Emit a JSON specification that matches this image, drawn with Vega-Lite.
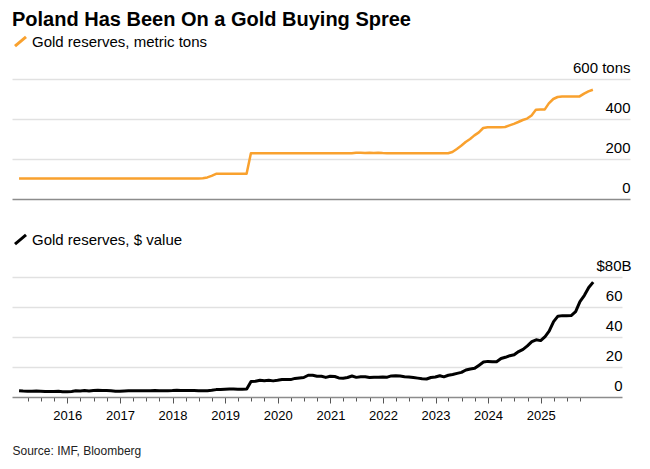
{
  "$schema": "https://vega.github.io/schema/vega-lite/v6.json",
  "background": "white",
  "padding": {"left": 12, "top": 10, "right": 14, "bottom": 8},
  "title": {"text": "Poland Has Been On a Gold Buying Spree", "anchor": "start", "fontSize": 20, "fontWeight": "bold", "color": "#000", "offset": 4},
  "config": {"view": {"stroke": null}, "font": "Liberation Sans"},
  "spacing": 33,
  "resolve": {"scale": {"x": "independent", "y": "independent", "color": "independent"}, "legend": {"color": "independent"}},
  "datasets": {
    "gold": [
      {"date": "2015-01-31", "tons": 102.9, "usd": 4.17},
      {"date": "2015-02-28", "tons": 102.9, "usd": 4.01},
      {"date": "2015-03-31", "tons": 102.9, "usd": 3.91},
      {"date": "2015-04-30", "tons": 102.9, "usd": 3.90},
      {"date": "2015-05-31", "tons": 102.9, "usd": 3.94},
      {"date": "2015-06-30", "tons": 102.9, "usd": 3.88},
      {"date": "2015-07-31", "tons": 102.9, "usd": 3.63},
      {"date": "2015-08-31", "tons": 102.9, "usd": 3.75},
      {"date": "2015-09-30", "tons": 102.9, "usd": 3.69},
      {"date": "2015-10-31", "tons": 102.9, "usd": 3.78},
      {"date": "2015-11-30", "tons": 102.9, "usd": 3.52},
      {"date": "2015-12-31", "tons": 102.9, "usd": 3.51},
      {"date": "2016-01-31", "tons": 102.9, "usd": 3.70},
      {"date": "2016-02-29", "tons": 102.9, "usd": 4.10},
      {"date": "2016-03-31", "tons": 102.9, "usd": 4.08},
      {"date": "2016-04-30", "tons": 102.9, "usd": 4.27},
      {"date": "2016-05-31", "tons": 102.9, "usd": 4.02},
      {"date": "2016-06-30", "tons": 102.9, "usd": 4.37},
      {"date": "2016-07-31", "tons": 102.9, "usd": 4.47},
      {"date": "2016-08-31", "tons": 102.9, "usd": 4.33},
      {"date": "2016-09-30", "tons": 102.9, "usd": 4.37},
      {"date": "2016-10-31", "tons": 102.9, "usd": 4.21},
      {"date": "2016-11-30", "tons": 102.9, "usd": 3.90},
      {"date": "2016-12-31", "tons": 102.9, "usd": 3.79},
      {"date": "2017-01-31", "tons": 102.9, "usd": 4.01},
      {"date": "2017-02-28", "tons": 102.9, "usd": 4.15},
      {"date": "2017-03-31", "tons": 102.9, "usd": 4.12},
      {"date": "2017-04-30", "tons": 102.9, "usd": 4.19},
      {"date": "2017-05-31", "tons": 102.9, "usd": 4.19},
      {"date": "2017-06-30", "tons": 102.9, "usd": 4.11},
      {"date": "2017-07-31", "tons": 102.9, "usd": 4.20},
      {"date": "2017-08-31", "tons": 102.9, "usd": 4.37},
      {"date": "2017-09-30", "tons": 102.9, "usd": 4.24},
      {"date": "2017-10-31", "tons": 102.9, "usd": 4.20},
      {"date": "2017-11-30", "tons": 102.9, "usd": 4.22},
      {"date": "2017-12-31", "tons": 102.9, "usd": 4.29},
      {"date": "2018-01-31", "tons": 102.9, "usd": 4.45},
      {"date": "2018-02-28", "tons": 102.9, "usd": 4.36},
      {"date": "2018-03-31", "tons": 102.9, "usd": 4.38},
      {"date": "2018-04-30", "tons": 102.9, "usd": 4.35},
      {"date": "2018-05-31", "tons": 102.9, "usd": 4.29},
      {"date": "2018-06-30", "tons": 102.9, "usd": 4.14},
      {"date": "2018-07-31", "tons": 104, "usd": 4.09},
      {"date": "2018-08-31", "tons": 108, "usd": 4.17},
      {"date": "2018-09-30", "tons": 116, "usd": 4.43},
      {"date": "2018-10-31", "tons": 126, "usd": 4.92},
      {"date": "2018-11-30", "tons": 126, "usd": 4.95},
      {"date": "2018-12-31", "tons": 126, "usd": 5.18},
      {"date": "2019-01-31", "tons": 126, "usd": 5.35},
      {"date": "2019-02-28", "tons": 126, "usd": 5.33},
      {"date": "2019-03-31", "tons": 126, "usd": 5.23},
      {"date": "2019-04-30", "tons": 126, "usd": 5.20},
      {"date": "2019-05-31", "tons": 126, "usd": 5.29},
      {"date": "2019-06-30", "tons": 228.6, "usd": 10.36},
      {"date": "2019-07-31", "tons": 228.6, "usd": 10.49},
      {"date": "2019-08-31", "tons": 228.6, "usd": 11.17},
      {"date": "2019-09-30", "tons": 228.6, "usd": 10.91},
      {"date": "2019-10-31", "tons": 228.6, "usd": 11.12},
      {"date": "2019-11-30", "tons": 228.6, "usd": 10.75},
      {"date": "2019-12-31", "tons": 228.6, "usd": 11.15},
      {"date": "2020-01-31", "tons": 228.6, "usd": 11.63},
      {"date": "2020-02-29", "tons": 228.6, "usd": 11.65},
      {"date": "2020-03-31", "tons": 228.6, "usd": 11.59},
      {"date": "2020-04-30", "tons": 228.6, "usd": 12.39},
      {"date": "2020-05-31", "tons": 228.6, "usd": 12.71},
      {"date": "2020-06-30", "tons": 228.6, "usd": 12.99},
      {"date": "2020-07-31", "tons": 228.6, "usd": 14.52},
      {"date": "2020-08-31", "tons": 228.6, "usd": 14.46},
      {"date": "2020-09-30", "tons": 228.6, "usd": 13.86},
      {"date": "2020-10-31", "tons": 228.6, "usd": 13.81},
      {"date": "2020-11-30", "tons": 228.6, "usd": 13.06},
      {"date": "2020-12-31", "tons": 228.6, "usd": 13.87},
      {"date": "2021-01-31", "tons": 228.6, "usd": 13.69},
      {"date": "2021-02-28", "tons": 228.6, "usd": 12.74},
      {"date": "2021-03-31", "tons": 228.6, "usd": 12.55},
      {"date": "2021-04-30", "tons": 228.6, "usd": 12.99},
      {"date": "2021-05-31", "tons": 228.6, "usd": 13.99},
      {"date": "2021-06-30", "tons": 231.0, "usd": 13.09},
      {"date": "2021-07-31", "tons": 231.5, "usd": 13.47},
      {"date": "2021-08-31", "tons": 230.6, "usd": 13.47},
      {"date": "2021-09-30", "tons": 231.3, "usd": 12.94},
      {"date": "2021-10-31", "tons": 230.2, "usd": 13.24},
      {"date": "2021-11-30", "tons": 231.0, "usd": 13.18},
      {"date": "2021-12-31", "tons": 229.5, "usd": 13.41},
      {"date": "2022-01-31", "tons": 228.7, "usd": 13.21},
      {"date": "2022-02-28", "tons": 228.7, "usd": 14.04},
      {"date": "2022-03-31", "tons": 228.7, "usd": 14.24},
      {"date": "2022-04-30", "tons": 228.7, "usd": 13.95},
      {"date": "2022-05-31", "tons": 228.7, "usd": 13.51},
      {"date": "2022-06-30", "tons": 228.7, "usd": 13.29},
      {"date": "2022-07-31", "tons": 228.7, "usd": 12.98},
      {"date": "2022-08-31", "tons": 228.7, "usd": 12.58},
      {"date": "2022-09-30", "tons": 228.7, "usd": 12.21},
      {"date": "2022-10-31", "tons": 228.7, "usd": 12.01},
      {"date": "2022-11-30", "tons": 228.7, "usd": 13.00},
      {"date": "2022-12-31", "tons": 228.7, "usd": 13.32},
      {"date": "2023-01-31", "tons": 228.7, "usd": 14.18},
      {"date": "2023-02-28", "tons": 228.7, "usd": 13.43},
      {"date": "2023-03-31", "tons": 228.7, "usd": 14.48},
      {"date": "2023-04-30", "tons": 235, "usd": 15.04},
      {"date": "2023-05-31", "tons": 250, "usd": 15.77},
      {"date": "2023-06-30", "tons": 266, "usd": 16.41},
      {"date": "2023-07-31", "tons": 285, "usd": 18.0},
      {"date": "2023-08-31", "tons": 300, "usd": 18.71},
      {"date": "2023-09-30", "tons": 318, "usd": 19.13},
      {"date": "2023-10-31", "tons": 333, "usd": 21.23},
      {"date": "2023-11-30", "tons": 355, "usd": 23.3},
      {"date": "2023-12-31", "tons": 358.7, "usd": 23.74},
      {"date": "2024-01-31", "tons": 358.7, "usd": 23.48},
      {"date": "2024-02-29", "tons": 358.7, "usd": 23.53},
      {"date": "2024-03-31", "tons": 358.7, "usd": 25.67},
      {"date": "2024-04-30", "tons": 360, "usd": 26.46},
      {"date": "2024-05-31", "tons": 368, "usd": 27.53},
      {"date": "2024-06-30", "tons": 376, "usd": 28.12},
      {"date": "2024-07-31", "tons": 385, "usd": 30.29},
      {"date": "2024-08-31", "tons": 395, "usd": 31.79},
      {"date": "2024-09-30", "tons": 402, "usd": 34.06},
      {"date": "2024-10-31", "tons": 418, "usd": 36.88},
      {"date": "2024-11-30", "tons": 446, "usd": 38.10},
      {"date": "2024-12-31", "tons": 448, "usd": 37.59},
      {"date": "2025-01-31", "tons": 448, "usd": 40.30},
      {"date": "2025-02-28", "tons": 478, "usd": 43.9},
      {"date": "2025-03-31", "tons": 500, "usd": 50.2},
      {"date": "2025-04-30", "tons": 510, "usd": 53.9},
      {"date": "2025-05-31", "tons": 513, "usd": 54.25},
      {"date": "2025-06-30", "tons": 513, "usd": 54.21},
      {"date": "2025-07-31", "tons": 513, "usd": 54.26},
      {"date": "2025-08-31", "tons": 513, "usd": 56.87},
      {"date": "2025-09-30", "tons": 513, "usd": 63.63},
      {"date": "2025-10-31", "tons": 527, "usd": 67.77},
      {"date": "2025-11-30", "tons": 538, "usd": 73.0},
      {"date": "2025-12-31", "tons": 546, "usd": 76.6}
    ]
  },
  "vconcat": [
    {
      "width": 618,
      "height": 120,
      "data": {"name": "gold"},
      "mark": {"type": "line", "strokeWidth": 2.5, "strokeJoin": "round"},
      "encoding": {
        "x": {
          "field": "date", "type": "temporal",
          "scale": {"type": "utc", "domain": [{"year": 2014, "month": 12, "date": 13, "utc": true}, {"year": 2026, "month": 9, "date": 15, "utc": true}]},
          "axis": {"domain": true, "domainColor": "#8c8c8c", "domainWidth": 1.5, "ticks": false, "labels": false, "grid": false, "title": null}
        },
        "y": {
          "field": "tons", "type": "quantitative",
          "scale": {"domain": [0, 600]},
          "axis": {
            "orient": "right", "values": [0, 200, 400, 600], "title": null,
            "grid": true, "gridColor": "#e1e1e1", "gridWidth": 1.5,
            "gridOpacity": {"condition": {"test": "datum.value == 0", "value": 0}, "value": 1},
            "domain": false, "ticks": false, "tickSize": 0,
            "labelPadding": 0, "labelAlign": "right", "labelBaseline": "alphabetic", "labelOffset": -7,
            "labelFontSize": 15, "labelColor": "#000",
            "labelExpr": "datum.value == 600 ? '600 tons' : datum.label"
          }
        },
        "color": {
          "datum": "Gold reserves, metric tons", "type": "nominal",
          "scale": {"range": ["#f9a12e"]},
          "legend": {
            "orient": "none", "legendX": 1, "legendY": -45, "title": null, "padding": 0,
            "symbolType": "M-1,0.85L1,-0.85", "symbolSize": 121, "symbolStrokeWidth": 3,
            "labelFontSize": 15, "labelOffset": 4, "labelColor": "#000", "labelLimit": 400
          }
        }
      }
    },
    {
      "width": 610,
      "height": 120,
      "data": {"name": "gold"},
      "mark": {"type": "line", "strokeWidth": 3, "strokeJoin": "round"},
      "encoding": {
        "x": {
          "field": "date", "type": "temporal",
          "scale": {"type": "utc", "domain": [{"year": 2014, "month": 12, "date": 13, "utc": true}, {"year": 2026, "month": 7, "date": 19, "utc": true}]},
          "axis": {
            "values": [
              {"year": 2015, "month": 4, "utc": true}, {"year": 2015, "month": 7, "utc": true}, {"year": 2015, "month": 10, "utc": true},
              {"year": 2016, "month": 1, "utc": true}, {"year": 2016, "month": 4, "utc": true}, {"year": 2016, "month": 7, "utc": true}, {"year": 2016, "month": 10, "utc": true},
              {"year": 2017, "month": 1, "utc": true}, {"year": 2017, "month": 4, "utc": true}, {"year": 2017, "month": 7, "utc": true}, {"year": 2017, "month": 10, "utc": true},
              {"year": 2018, "month": 1, "utc": true}, {"year": 2018, "month": 4, "utc": true}, {"year": 2018, "month": 7, "utc": true}, {"year": 2018, "month": 10, "utc": true},
              {"year": 2019, "month": 1, "utc": true}, {"year": 2019, "month": 4, "utc": true}, {"year": 2019, "month": 7, "utc": true}, {"year": 2019, "month": 10, "utc": true},
              {"year": 2020, "month": 1, "utc": true}, {"year": 2020, "month": 4, "utc": true}, {"year": 2020, "month": 7, "utc": true}, {"year": 2020, "month": 10, "utc": true},
              {"year": 2021, "month": 1, "utc": true}, {"year": 2021, "month": 4, "utc": true}, {"year": 2021, "month": 7, "utc": true}, {"year": 2021, "month": 10, "utc": true},
              {"year": 2022, "month": 1, "utc": true}, {"year": 2022, "month": 4, "utc": true}, {"year": 2022, "month": 7, "utc": true}, {"year": 2022, "month": 10, "utc": true},
              {"year": 2023, "month": 1, "utc": true}, {"year": 2023, "month": 4, "utc": true}, {"year": 2023, "month": 7, "utc": true}, {"year": 2023, "month": 10, "utc": true},
              {"year": 2024, "month": 1, "utc": true}, {"year": 2024, "month": 4, "utc": true}, {"year": 2024, "month": 7, "utc": true}, {"year": 2024, "month": 10, "utc": true},
              {"year": 2025, "month": 1, "utc": true}, {"year": 2025, "month": 4, "utc": true}, {"year": 2025, "month": 7, "utc": true}, {"year": 2025, "month": 10, "utc": true}
            ],
            "labelExpr": "utcmonth(datum.value) == 0 ? utcFormat(datum.value, '%Y') : ''",
            "labelOverlap": false, "labelFlush": false, "labelBound": false,
            "labelFontSize": 13, "labelColor": "#000", "labelPadding": 6,
            "grid": false,
            "domain": true, "domainColor": "#8c8c8c", "domainWidth": 1.5,
            "ticks": true, "tickColor": "#555", "tickWidth": 1,
            "tickSize": {"condition": {"test": "utcmonth(datum.value) == 0", "value": 6}, "value": 4},
            "title": "Source: IMF, Bloomberg", "titleAnchor": "start", "titleAlign": "left", "titleBaseline": "alphabetic",
            "titleX": 0, "titleY": 57, "titleFontSize": 12, "titleFontWeight": "normal", "titleColor": "#222"
          }
        },
        "y": {
          "field": "usd", "type": "quantitative",
          "scale": {"domain": [0, 80]},
          "axis": {
            "orient": "right", "values": [0, 20, 40, 60, 80], "title": null,
            "grid": true, "gridColor": "#e1e1e1", "gridWidth": 1.5,
            "gridOpacity": {"condition": {"test": "datum.value == 0", "value": 0}, "value": 1},
            "domain": false, "ticks": false, "tickSize": 0,
            "labelPadding": {"condition": {"test": "datum.value == 80", "value": 9}, "value": 0},
            "labelAlign": "right", "labelBaseline": "alphabetic", "labelOffset": -7,
            "labelFontSize": 15, "labelColor": "#000",
            "labelExpr": "datum.value == 80 ? '$80B' : datum.label"
          }
        },
        "color": {
          "datum": "Gold reserves, $ value", "type": "nominal",
          "scale": {"range": ["#000000"]},
          "legend": {
            "orient": "none", "legendX": 1, "legendY": -45, "title": null, "padding": 0,
            "symbolType": "M-1,0.85L1,-0.85", "symbolSize": 121, "symbolStrokeWidth": 3,
            "labelFontSize": 15, "labelOffset": 4, "labelColor": "#000", "labelLimit": 400
          }
        }
      }
    }
  ]
}
